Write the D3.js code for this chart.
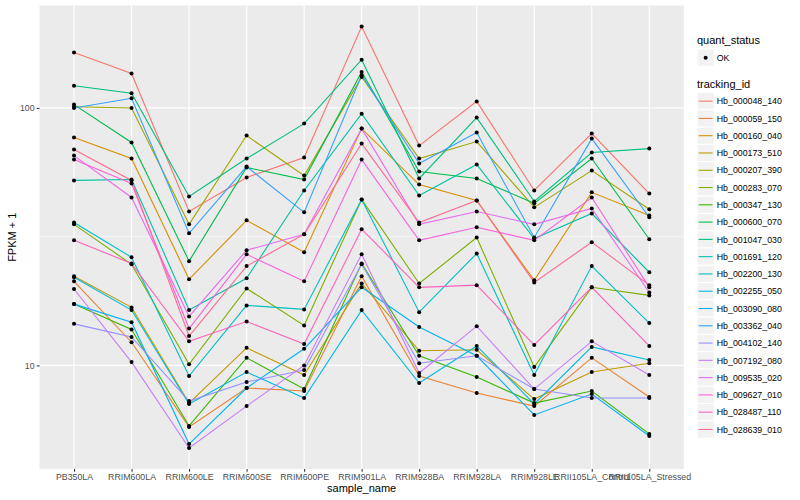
<!DOCTYPE html>
<html>
<head>
<meta charset="utf-8">
<script src="https://cdn.jsdelivr.net/npm/d3@7"></script>
<style>
  body { margin: 0; background: #fff; }
  text { font-family: "Liberation Sans", Arial, sans-serif; }
</style>
</head>
<body>
<div id="chart"></div>
<script>

var samples = ["PB350LA", "RRIM600LA", "RRIM600LE", "RRIM600SE", "RRIM600PE", "RRIM901LA",
               "RRIM928BA", "RRIM928LA", "RRIM928LE", "RRII105LA_Control", "RRII105LA_Stressed"];

var trackingIds = ["Hb_000048_140", "Hb_000059_150", "Hb_000160_040", "Hb_000173_510", "Hb_000207_390",
                   "Hb_000283_070", "Hb_000347_130", "Hb_000600_070", "Hb_001047_030", "Hb_001691_120",
                   "Hb_002200_130", "Hb_002255_050", "Hb_003090_080", "Hb_003362_040", "Hb_004102_140",
                   "Hb_007192_080", "Hb_009535_020", "Hb_009627_010", "Hb_028487_110", "Hb_028639_010"];

var quantStatus = ["OK"];

// FPKM + 1, one array per gene, in sample order
var fpkm_000048_140 = [164, 136, 39.6, 53.7, 64.2, 207, 71.4, 106, 47.8, 79.5, 46.5];
var fpkm_000059_150 = [21.2, 12.3, 5.77, 8.17, 7.95, 22.2, 9.09, 7.81, 6.95, 10.7, 7.54];
var fpkm_000160_040 = [76.7, 63.6, 21.6, 36.6, 27.5, 83.1, 50.4, 43.7, 21.4, 47.0, 38.2];
var fpkm_000173_510 = [22.2, 16.8, 7.14, 11.7, 9.17, 20.8, 11.4, 11.5, 7.40, 9.42, 10.2];
var fpkm_000207_390 = [101, 100, 35.3, 78.1, 54.6, 132, 63.6, 74.0, 41.1, 57.1, 40.4];
var fpkm_000283_070 = [35.3, 24.7, 10.1, 19.9, 14.3, 44.1, 20.8, 31.4, 9.85, 20.1, 18.7];
var fpkm_000347_130 = [17.3, 13.8, 5.82, 10.7, 8.09, 24.9, 10.9, 9.01, 7.14, 7.95, 5.42];
var fpkm_000600_070 = [103, 73.4, 25.4, 58.7, 52.7, 138, 56.6, 53.2, 42.6, 63.6, 30.9];
var fpkm_001047_030 = [122, 114, 45.3, 63.6, 86.9, 154, 53.2, 91.7, 43.3, 67.1, 69.5];
var fpkm_001691_120 = [52.3, 52.7, 16.4, 21.8, 47.8, 95.0, 45.7, 60.3, 31.1, 38.9, 23.0];
var fpkm_002200_130 = [35.9, 26.3, 9.09, 17.1, 16.5, 44.1, 16.1, 27.2, 9.17, 24.3, 14.6];
var fpkm_002255_050 = [22.0, 16.4, 7.08, 9.42, 7.47, 16.4, 8.54, 11.9, 7.08, 11.8, 10.5];
var fpkm_003090_080 = [17.3, 14.7, 4.95, 8.17, 11.6, 20.1, 14.1, 10.9, 6.42, 7.74, 5.32];
var fpkm_003362_040 = [100, 109, 32.6, 59.2, 39.3, 134, 60.8, 80.2, 31.4, 76.0, 37.6];
var fpkm_004102_140 = [14.5, 12.9, 7.27, 8.62, 9.59, 24.7, 10.2, 10.9, 8.09, 7.47, 7.47];
var fpkm_007192_080 = [19.8, 10.3, 4.78, 6.95, 10.0, 27.0, 9.34, 14.2, 8.09, 12.4, 9.17];
var fpkm_009535_020 = [65.3, 44.9, 15.5, 28.0, 32.3, 83.1, 35.3, 39.6, 35.3, 40.7, 19.2];
var fpkm_009627_010 = [63.0, 50.9, 13.9, 27.0, 21.2, 63.0, 30.6, 34.4, 30.6, 44.9, 20.1];
var fpkm_028487_110 = [30.6, 24.9, 12.4, 14.8, 12.1, 33.8, 20.1, 20.5, 12.0, 20.1, 11.9];
var fpkm_028639_010 = [68.9, 52.3, 13.0, 24.3, 32.3, 72.7, 35.9, 43.7, 21.0, 30.1, 20.5];

var yTicks = [10, 100];
var yTickLabels = ["10", "100"];

var seriesValues = [fpkm_000048_140, fpkm_000059_150, fpkm_000160_040, fpkm_000173_510, fpkm_000207_390,
                    fpkm_000283_070, fpkm_000347_130, fpkm_000600_070, fpkm_001047_030, fpkm_001691_120,
                    fpkm_002200_130, fpkm_002255_050, fpkm_003090_080, fpkm_003362_040, fpkm_004102_140,
                    fpkm_007192_080, fpkm_009535_020, fpkm_009627_010, fpkm_028487_110, fpkm_028639_010];

// ggplot default hue palette for 20 levels
var colour = d3.scaleOrdinal()
  .domain(trackingIds)
  .range(["#F8766D", "#EA8331", "#D89000", "#C09B00", "#A3A500", "#7CAE00", "#39B600", "#00BB4E",
          "#00BF7D", "#00C1A3", "#00BFC4", "#00BAE0", "#00B0F6", "#35A2FF", "#9590FF", "#C77CFF",
          "#E76BF3", "#FA62DB", "#FF62BC", "#FF6C91"]);

var series = trackingIds.map(function (id, i) {
  return { id: id, values: samples.map(function (s, j) { return { sample: s, value: seriesValues[i][j] }; }) };
});

var W = 800, H = 500;
var panel = { left: 39.5, right: 683.8, top: 5.5, bottom: 469 };

var svg = d3.select("#chart").append("svg")
  .attr("width", W).attr("height", H)
  .style("display", "block");

svg.append("rect").attr("width", W).attr("height", H).attr("fill", "#fff");

var x = d3.scalePoint().domain(samples).range([panel.left, panel.right]).padding(0.6);

// log scale, expanded 5% each side like ggplot
var allVals = d3.merge(seriesValues);
var l0 = Math.log10(d3.min(allVals)), l1 = Math.log10(d3.max(allVals));
var pad = (l1 - l0) * 0.05;
var y = d3.scaleLog()
  .domain([Math.pow(10, l0 - pad), Math.pow(10, l1 + pad)])
  .range([panel.bottom, panel.top]);

// panel background + grid
svg.append("rect")
  .attr("x", panel.left).attr("y", panel.top)
  .attr("width", panel.right - panel.left).attr("height", panel.bottom - panel.top)
  .attr("fill", "#EBEBEB");

var grid = svg.append("g").attr("stroke", "#fff").attr("fill", "none");

// minor breaks sit halfway between majors in log space
var minor = [Math.sqrt(yTicks[0] * yTicks[1])];
grid.selectAll(".minor").data(minor).enter().append("line")
  .attr("x1", panel.left).attr("x2", panel.right)
  .attr("y1", function (d) { return y(d); }).attr("y2", function (d) { return y(d); })
  .attr("stroke-width", 0.55);

grid.selectAll(".hmajor").data(yTicks).enter().append("line")
  .attr("x1", panel.left).attr("x2", panel.right)
  .attr("y1", function (d) { return y(d); }).attr("y2", function (d) { return y(d); })
  .attr("stroke-width", 1.1);

grid.selectAll(".vmajor").data(samples).enter().append("line")
  .attr("y1", panel.top).attr("y2", panel.bottom)
  .attr("x1", function (d) { return x(d); }).attr("x2", function (d) { return x(d); })
  .attr("stroke-width", 1.1);

// lines
var line = d3.line()
  .x(function (d) { return x(d.sample); })
  .y(function (d) { return y(d.value); });

svg.append("g").selectAll("path")
  .data(series).enter().append("path")
  .attr("d", function (d) { return line(d.values); })
  .attr("fill", "none")
  .attr("stroke", function (d) { return colour(d.id); })
  .attr("stroke-width", 1.1);

// points
svg.append("g").selectAll("circle")
  .data(d3.merge(series.map(function (d) { return d.values; })))
  .enter().append("circle")
  .attr("cx", function (d) { return x(d.sample); })
  .attr("cy", function (d) { return y(d.value); })
  .attr("r", 2)
  .attr("fill", "#000");

// axes
var yAxis = d3.axisLeft(y).tickValues(yTicks)
  .tickFormat(function (d, i) { return yTickLabels[i]; })
  .tickSize(2.75).tickPadding(2.2);
var gy = svg.append("g").attr("transform", "translate(" + panel.left + ",0)").call(yAxis);

var xAxis = d3.axisBottom(x).tickSize(2.75).tickPadding(2.2);
var gx = svg.append("g").attr("transform", "translate(0," + panel.bottom + ")").call(xAxis);

[gx, gy].forEach(function (g) {
  g.select(".domain").remove();
  g.selectAll(".tick line").attr("stroke", "#333333").attr("stroke-width", 1.07);
  g.selectAll(".tick text").attr("fill", "#4D4D4D").style("font-size", "8.8px")
   .style("font-family", "'Liberation Sans', Arial, sans-serif");
});

svg.append("text")
  .attr("x", (panel.left + panel.right) / 2).attr("y", 492)
  .attr("text-anchor", "middle").style("font-size", "11px").attr("fill", "#000")
  .text("sample_name");

svg.append("text")
  .attr("transform", "translate(16," + ((panel.top + panel.bottom) / 2) + ") rotate(-90)")
  .attr("text-anchor", "middle").style("font-size", "11px").attr("fill", "#000")
  .text("FPKM + 1");

// legends
var keySize = 17.28, legX = 697;

var leg = svg.append("g");

leg.append("text").attr("x", legX).attr("y", 44).style("font-size", "11px").text("quant_status");
var qs = leg.selectAll(".qs").data(quantStatus).enter().append("g")
  .attr("transform", function (d, i) { return "translate(" + legX + "," + (49 + i * keySize) + ")"; });
qs.append("rect").attr("width", keySize).attr("height", keySize)
  .attr("fill", "#F2F2F2").attr("stroke", "#fff");
qs.append("circle").attr("cx", keySize / 2).attr("cy", keySize / 2).attr("r", 2).attr("fill", "#000");
qs.append("text").attr("x", keySize + 2.5).attr("y", keySize / 2 + 3.2)
  .style("font-size", "8.8px").text(function (d) { return d; });

leg.append("text").attr("x", legX).attr("y", 88).style("font-size", "11px").text("tracking_id");
var ti = leg.selectAll(".ti").data(trackingIds).enter().append("g")
  .attr("transform", function (d, i) { return "translate(" + legX + "," + (92.5 + i * keySize) + ")"; });
ti.append("rect").attr("width", keySize).attr("height", keySize)
  .attr("fill", "#F2F2F2").attr("stroke", "#fff");
ti.append("line").attr("x1", 1.7).attr("x2", keySize - 1.7)
  .attr("y1", keySize / 2).attr("y2", keySize / 2)
  .attr("stroke", function (d) { return colour(d); }).attr("stroke-width", 1.1);
ti.append("text").attr("x", keySize + 2.5).attr("y", keySize / 2 + 3.2)
  .style("font-size", "8.8px").text(function (d) { return d; });

</script>
</body>
</html>
